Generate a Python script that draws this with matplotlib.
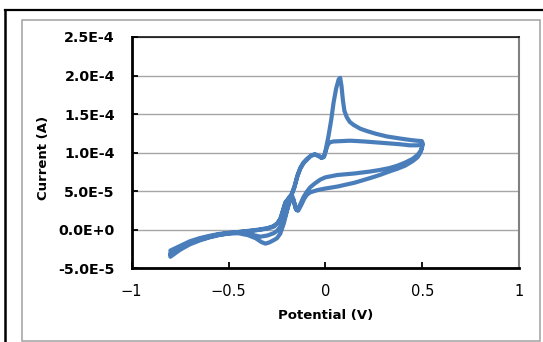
import numpy as np
import matplotlib
matplotlib.use('Agg')
import matplotlib.pyplot as plt
from matplotlib.lines import Line2D
from matplotlib.patches import Rectangle

# current values are read in units of 1e-5 A
UNIT = 1e-5

# first anodic sweep (-0.8 -> 0.5 V), with the big peak near 0.07 V
fwd1_x = [-0.80, -0.75, -0.70, -0.65, -0.60, -0.55, -0.50, -0.45, -0.40, -0.35,
          -0.30, -0.27, -0.25, -0.235, -0.22, -0.207, -0.19, -0.175, -0.16, -0.145,
          -0.13, -0.114, -0.095, -0.075, -0.055, -0.035, -0.02, -0.008, 0.0, 0.008,
          0.016, 0.03, 0.042, 0.055, 0.068, 0.076, 0.083, 0.09, 0.098, 0.11,
          0.125, 0.145, 0.18, 0.214, 0.26, 0.317, 0.38, 0.436, 0.47, 0.497, 0.50]
fwd1_y = [-2.7, -2.1, -1.5, -1.1, -0.8, -0.55, -0.4, -0.3, -0.15, 0.0,
          0.2, 0.45, 0.8, 1.3, 2.4, 3.5, 4.0, 4.5, 5.5, 6.9,
          7.9, 8.6, 9.1, 9.6, 9.8, 9.6, 9.35, 9.5, 10.2, 11.2,
          12.2, 14.3, 16.5, 18.3, 19.5, 19.7, 18.6, 16.8, 15.4, 14.6,
          14.0, 13.6, 13.1, 12.8, 12.45, 12.1, 11.85, 11.65, 11.55, 11.5, 11.3]

# first cathodic sweep (0.5 -> -0.8 V)
rev1_x = [0.50, 0.497, 0.49, 0.475, 0.45, 0.41, 0.37, 0.33, 0.28, 0.23,
          0.15, 0.061, 0.0, -0.027, -0.055, -0.079, -0.097, -0.114, -0.13, -0.145,
          -0.155, -0.163, -0.17, -0.178, -0.19, -0.20, -0.215, -0.233, -0.25, -0.267,
          -0.29, -0.31, -0.33, -0.36, -0.40, -0.45, -0.50, -0.55, -0.60, -0.65,
          -0.70, -0.75, -0.80]
rev1_y = [11.0, 10.6, 10.2, 9.7, 9.2, 8.7, 8.3, 8.0, 7.75, 7.55,
          7.3, 7.1, 6.8, 6.5, 6.0, 5.5, 4.9, 4.2, 3.3, 2.5,
          2.8, 3.8, 4.3, 4.0, 3.4, 2.3, 0.8, -0.5, -1.1, -1.35,
          -1.65, -1.8, -1.6, -1.1, -0.7, -0.45, -0.5, -0.7, -1.0, -1.4,
          -1.9, -2.6, -3.5]

# second anodic sweep, flat plateau instead of the peak
fwd2_x = [-0.80, -0.75, -0.70, -0.65, -0.60, -0.55, -0.50, -0.45, -0.40, -0.35,
          -0.30, -0.267, -0.245, -0.23, -0.218, -0.205, -0.19, -0.175, -0.16, -0.145,
          -0.13, -0.114, -0.095, -0.075, -0.055, -0.035, -0.02, -0.008, 0.0, 0.01,
          0.02, 0.04, 0.08, 0.128, 0.20, 0.30, 0.38, 0.436, 0.47, 0.497, 0.50]
fwd2_y = [-3.0, -2.3, -1.7, -1.2, -0.9, -0.6, -0.45, -0.3, -0.2, -0.05,
          0.15, 0.4, 0.9, 1.5, 2.6, 3.6, 4.1, 4.6, 5.6, 7.0,
          8.0, 8.7, 9.2, 9.6, 9.75, 9.55, 9.3, 9.45, 10.1, 10.9,
          11.3, 11.45, 11.5, 11.55, 11.45, 11.25, 11.1, 10.95, 10.95, 11.0, 11.2]

# second cathodic sweep
rev2_x = [0.50, 0.497, 0.49, 0.475, 0.45, 0.41, 0.37, 0.334, 0.28, 0.23,
          0.15, 0.061, 0.0, -0.04, -0.079, -0.097, -0.11, -0.125, -0.14, -0.15,
          -0.16, -0.17, -0.18, -0.19, -0.205, -0.22, -0.233, -0.25, -0.267, -0.30,
          -0.336, -0.37, -0.40, -0.45, -0.50, -0.55, -0.60, -0.65, -0.70, -0.75, -0.80]
rev2_y = [11.0, 10.5, 10.0, 9.4, 8.9, 8.3, 7.9, 7.6, 7.1, 6.7,
          6.1, 5.6, 5.35, 5.15, 4.85, 4.5, 4.0, 3.2, 2.5, 2.6,
          3.4, 4.1, 3.9, 3.2, 2.0, 0.9, 0.4, -0.15, -0.45, -0.75,
          -0.9, -0.7, -0.45, -0.35, -0.45, -0.65, -0.95, -1.3, -1.75, -2.4, -3.2]

x_ticks = [-1, -0.5, 0, 0.5, 1]
x_tick_labels = ['\u22121', '\u22120.5', '0', '0.5', '1']
y_ticks = [-5e-5, 0, 5e-5, 1e-4, 1.5e-4, 2e-4, 2.5e-4]
y_tick_labels = ['-5.0E-5', '0.0E+0', '5.0E-5', '1.0E-4', '1.5E-4', '2.0E-4', '2.5E-4']

pot = np.concatenate([fwd1_x, rev1_x, fwd2_x, rev2_x])
cur = np.concatenate([fwd1_y, rev1_y, fwd2_y, rev2_y]) * UNIT

W, H = 543, 342
fig = plt.figure(figsize=(W / 100, H / 100), dpi=100)
fig.patch.set_facecolor('white')

# frames around the chart (black outer, grey inner)
fig.add_artist(Rectangle((22 / W, 1 - 341 / H), 518 / W, 321 / H, transform=fig.transFigure,
                         fill=False, edgecolor='#a0a0a0', linewidth=1.1))
fig.add_artist(Line2D([5 / W, 1], [1 - 10 / H] * 2, transform=fig.transFigure,
                      color='black', linewidth=1.6))
fig.add_artist(Line2D([5 / W] * 2, [0, 1 - 10 / H], transform=fig.transFigure,
                      color='black', linewidth=1.8))

ax = fig.add_axes([131.6 / W, 1 - 268.3 / H, 387.7 / W, 231.3 / H])
ax.plot(pot, cur, color='#4a7ebb', linewidth=3.0, solid_joinstyle='round',
        solid_capstyle='round', zorder=3)

ax.set_xlim(-1, 1)
ax.set_ylim(-5e-5, 2.5e-4)
ax.set_xticks(x_ticks)
ax.set_xticklabels(x_tick_labels, fontsize=10.5, family='DejaVu Sans')
ax.set_yticks(y_ticks)
ax.set_yticklabels(y_tick_labels, fontsize=10.3, fontweight='bold', family='DejaVu Sans')
ax.tick_params(axis='x', direction='in', length=4, width=1.3, pad=11, top=False)
ax.tick_params(axis='y', direction='in', length=4, width=1.3, pad=12, right=False)

ax.yaxis.grid(True, color='#a6a6a6', linewidth=1.0)
ax.set_axisbelow(True)

for side in ['left', 'bottom']:
    ax.spines[side].set_linewidth(2.0)
    ax.spines[side].set_color('black')
ax.spines['top'].set_linewidth(1.1)
ax.spines['top'].set_color('black')
ax.spines['right'].set_linewidth(1.5)
ax.spines['right'].set_color('#808080')

ax.set_xlabel('Potential (V)', fontsize=9.5, fontweight='bold', va='center')
ax.set_ylabel('Current (A)', fontsize=9.5, fontweight='bold', va='center')
ax.xaxis.set_label_coords((326 - 131.6) / 387.7, (268.3 - 315) / 231.3)
ax.yaxis.set_label_coords((43 - 131.6) / 387.7, (268.3 - 158) / 231.3)

fig.savefig('out.png', dpi=100)
